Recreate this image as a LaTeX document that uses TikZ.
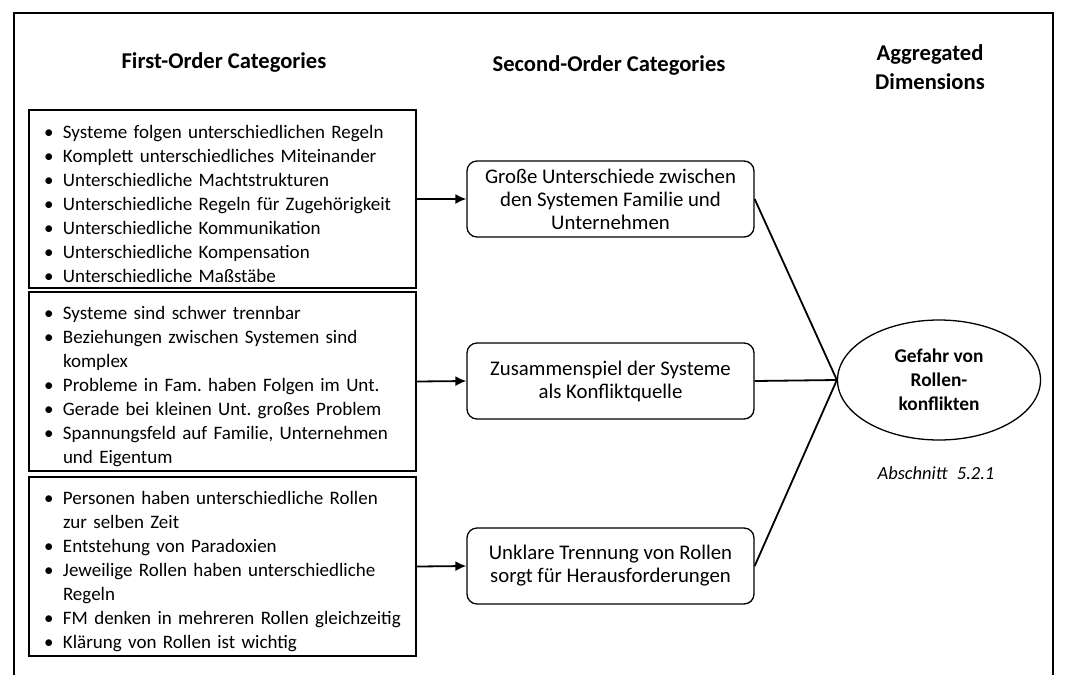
\documentclass[tikz,border=0pt]{standalone}
\usepackage{fontspec}
\setmainfont{Carlito}
\usetikzlibrary{shapes.geometric,arrows.meta}
\newcommand{\bitem}[1]{\par\hangindent=19pt\hangafter=1\noindent\makebox[19pt][l]{\textbullet}#1}
\tikzset{
  firstbox/.style={draw,line width=1.8pt,rectangle,text width=357pt,inner xsep=15pt,inner ysep=0pt,
    execute at begin node={\raggedright\rightskip=-20pt plus 1fil\hyphenpenalty=10000\exhyphenpenalty=10000\frenchspacing},font=\fontsize{19}{24}\selectfont},
  secondbox/.style={draw,line width=1.3pt,rectangle,rounded corners=10pt,minimum width=287pt,minimum height=76pt,align=center,inner sep=0pt,font=\fontsize{20.8}{23}\selectfont},
  dimbox/.style={draw,line width=1.3pt,ellipse,minimum width=203pt,minimum height=120pt,inner sep=0pt,align=center,font=\fontsize{19.4}{24}\selectfont\bfseries},
  heading/.style={font=\fontsize{22.6}{29.5}\selectfont\bfseries,align=center},
  arr/.style={line width=1.8pt,-{Latex[length=11pt,width=10pt]}},
  link/.style={line width=1.8pt}
}
\begin{document}
\begin{tikzpicture}[x=1pt,y=-1pt]
\useasboundingbox (0,0) rectangle (1078,675);
\fill[white] (0,0) rectangle (1078,675);
\draw[line width=1.3pt] (14,675) -- (14,13) -- (1053,13) -- (1053,675);
\node[heading] (h1) at (224,62) {First-Order Categories};
\node[heading] (h2) at (609,65) {Second-Order Categories};
\node[heading] (h3) at (930,67) {Aggregated\\Dimensions};
\node[firstbox,minimum height=178pt] (f1) at (222.5,199) {%
\bitem{Systeme folgen unterschiedlichen Regeln}
\bitem{Komplett unterschiedliches Miteinander}
\bitem{Unterschiedliche Machtstrukturen}
\bitem{Unterschiedliche Regeln für Zugehörigkeit}
\bitem{Unterschiedliche Kommunikation}
\bitem{Unterschiedliche Kompensation}
\bitem{Unterschiedliche Maßstäbe}\par};
\node[firstbox,minimum height=179pt] (f2) at (222.5,381.5) {%
\bitem{Systeme sind schwer trennbar}
\bitem{Beziehungen zwischen Systemen sind\newline komplex}
\bitem{Probleme in Fam. haben Folgen im Unt.}
\bitem{Gerade bei kleinen Unt. großes Problem}
\bitem{Spannungsfeld auf Familie, Unternehmen\newline und Eigentum}\par};
\node[firstbox,minimum height=179pt] (f3) at (222.5,566.5) {%
\bitem{Personen haben unterschiedliche Rollen\newline zur selben Zeit}
\bitem{Entstehung von Paradoxien}
\bitem{Jeweilige Rollen haben unterschiedliche\newline Regeln}
\bitem{FM denken in mehreren Rollen gleichzeitig}
\bitem{Klärung von Rollen ist wichtig}\par};
\node[secondbox] (s1) at (610.5,199) {Große Unterschiede zwischen\\den Systemen Familie und\\Unternehmen};
\node[secondbox] (s2) at (610.5,381) {Zusammenspiel der Systeme\\als Konfliktquelle};
\node[secondbox] (s3) at (610.5,566) {Unklare Trennung von Rollen\\sorgt für Herausforderungen};
\node[dimbox] (d) at (939,380) {Gefahr von\\Rollen-\\konflikten};
\node[font=\fontsize{18.5}{22}\selectfont\itshape] (ab) at (936,473) {Abschnitt\hspace{0.5em}5.2.1};
\draw[arr] (f1.east) -- (s1.west);
\draw[arr] (f2.east) -- (s2.west);
\draw[arr] (f3.east) -- (s3.west);
\draw[link] (s1.east) -- (d.west);
\draw[link] (s2.east) -- (d.west);
\draw[link] (s3.east) -- (d.west);
\end{tikzpicture}
\end{document}
